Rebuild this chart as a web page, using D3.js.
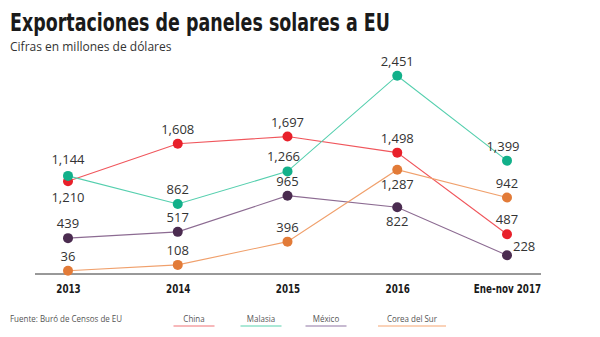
<!DOCTYPE html>
<html><head><meta charset="utf-8">
<script src="https://cdn.jsdelivr.net/npm/d3@7"></script>
<style>body{margin:0;background:#fff}svg{display:block}</style>
</head><body><svg id="c" width="600" height="337"></svg>
<script>
const categories = ["2013","2014","2015","2016","Ene-nov 2017"];
const seriesNames = ["China","Malasia","México","Corea del Sur"];
const china   = [1144,1608,1697,1498,487];
const malasia = [1210,862,1266,2451,1399];
const mexico  = [439,517,965,822,228];
const corea   = [36,108,396,1287,942];
const values = [china, malasia, mexico, corea];
// label placement (style)
const placement = [
  ["upfar","up","up","up","up"],
  ["downfar","up","upleft","up","upleft"],
  ["up","up","up","down","right"],
  ["up","up","up","down","up"]
];
const dotColors  = ["#e8202a","#12b08a","#4b2c50","#e27b38"];
const lineColors = ["#f0565c","#55cfae","#8c6b92","#f0a06c"];
const legColors  = ["#f5a0a3","#8fe0c8","#b4a3c2","#f8c3a0"];
const condFont = "'DejaVu Sans Condensed','Liberation Sans Narrow',sans-serif";

function squeeze(sel, factor){
  sel.each(function(){
    const w = this.getComputedTextLength();
    d3.select(this).attr("textLength", w*factor).attr("lengthAdjust","spacingAndGlyphs");
  });
}

const svg = d3.select("#c");
svg.append("text").attr("x",10).attr("y",31)
  .attr("font-family",condFont)
  .attr("font-weight","bold").attr("font-size",25).attr("fill","#1a1a1a")
  .attr("textLength",380).attr("lengthAdjust","spacingAndGlyphs")
  .text("Exportaciones de paneles solares a EU");
svg.append("text").attr("x",10).attr("y",51)
  .attr("font-family","'Open Sans',sans-serif").attr("font-size",12).attr("fill","#333")
  .text("Cifras en millones de dólares");

const x = d3.scalePoint().domain(categories).range([68,507]);
const y = d3.scaleLinear().domain([0,2451]).range([273.6,75.7]);

svg.append("line").attr("x1",35).attr("x2",541).attr("y1",274).attr("y2",274)
  .attr("stroke","#333").attr("stroke-width",1);

const xAxis = d3.axisBottom(x).tickSize(0).tickPadding(0);
const gx = svg.append("g").attr("transform","translate(0,284)").call(xAxis);
gx.select(".domain").remove();
gx.selectAll("text").attr("font-family",condFont)
  .attr("font-weight","bold").attr("font-size",12.5).attr("fill","#1a1a1a").attr("dy","0.71em");
squeeze(gx.selectAll("text"), 0.78);

const line = d3.line().x((d,i)=>x(categories[i])).y(d=>y(d));
values.forEach((vals,s)=>{
  svg.append("path").datum(vals).attr("d",line).attr("fill","none")
    .attr("stroke",lineColors[s]).attr("stroke-width",1.1);
});
const fmt = d3.format(",");
values.forEach((vals,s)=>{
  svg.selectAll(null).data(vals).enter().append("circle")
    .attr("cx",(d,i)=>x(categories[i])).attr("cy",d=>y(d)).attr("r",5).attr("fill",dotColors[s]);
  svg.selectAll(null).data(vals).enter().append("text")
    .attr("font-family","'Open Sans',sans-serif").attr("font-size",13).attr("fill","#333")
    .attr("x",(d,i)=>{const p=placement[s][i];const cx=x(categories[i]);
       return p==="right"?cx+6:p==="upleft"?cx-4:cx;})
    .attr("y",(d,i)=>{const p=placement[s][i];const cy=y(d);
       return p==="down"?cy+19:p==="downfar"?cy+26:p==="right"?cy-4:p==="upfar"?cy-17:cy-10;})
    .attr("text-anchor",(d,i)=>placement[s][i]==="right"?"start":"middle")
    .text(d=>fmt(d));
});

const src = svg.append("text").attr("x",10).attr("y",322)
  .attr("font-family","'Open Sans',sans-serif").attr("font-size",9.5).attr("fill","#555")
  .text("Fuente: Buró de Censos de EU");
squeeze(src, 0.84);
const legX = [194,261,326,412];
const legW = [41,41,41,68];
seriesNames.forEach((n,i)=>{
  const t = svg.append("text").attr("x",legX[i]).attr("y",322).attr("text-anchor","middle")
    .attr("font-family","'Open Sans',sans-serif").attr("font-size",9.5).attr("fill","#555").text(n);
  squeeze(t, 0.84);
  svg.append("line").attr("x1",legX[i]-legW[i]/2).attr("x2",legX[i]+legW[i]/2)
    .attr("y1",326).attr("y2",326).attr("stroke",legColors[i]).attr("stroke-width",1.5);
});
</script></body></html>
